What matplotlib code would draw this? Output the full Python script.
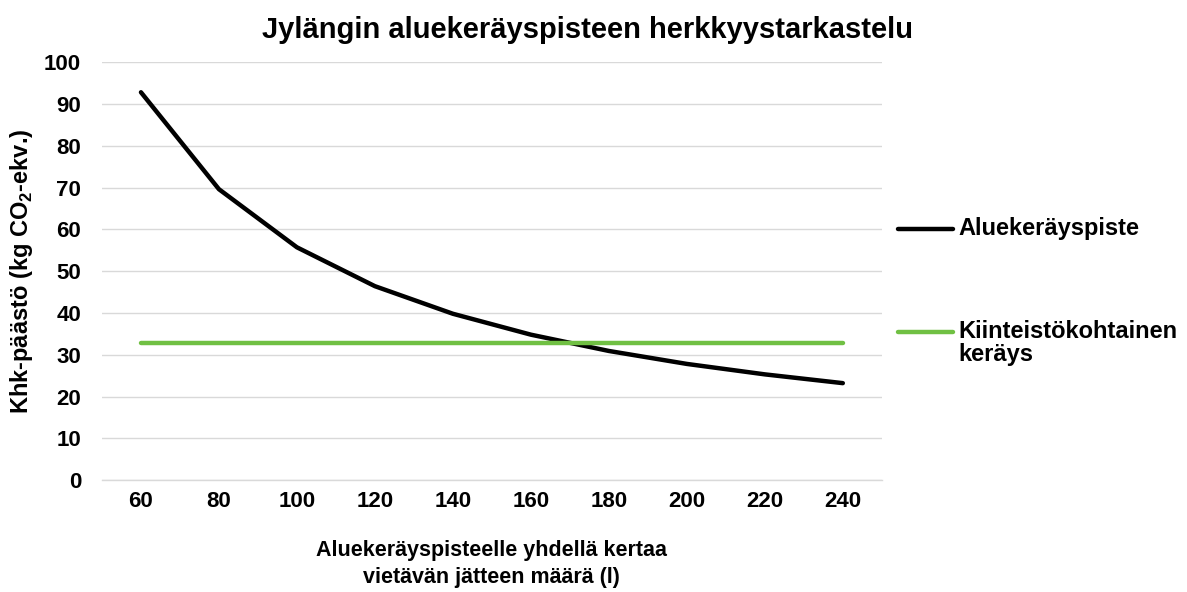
import matplotlib
matplotlib.use('Agg')
from matplotlib import pyplot as plt
from matplotlib.lines import Line2D

plt.rcParams['font.family'] = ['Liberation Sans', 'DejaVu Sans']
plt.rcParams['mathtext.fontset'] = 'custom'
plt.rcParams['mathtext.rm'] = 'Liberation Sans:bold'
plt.rcParams['mathtext.bf'] = 'Liberation Sans:bold'

# Data
volumes = [60, 80, 100, 120, 140, 160, 180, 200, 220, 240]
alue = [92.8, 69.6, 55.7, 46.4, 39.8, 34.8, 30.9, 27.8, 25.3, 23.2]
kiinteisto = [32.8, 32.8, 32.8, 32.8, 32.8, 32.8, 32.8, 32.8, 32.8, 32.8]
y_ticks = [0, 10, 20, 30, 40, 50, 60, 70, 80, 90, 100]

black = '#000000'
green = '#70c043'
grid_c = '#d9d9d9'

W, H = 1187, 592
fig = plt.figure(figsize=(W / 100, H / 100), dpi=100)
ax = fig.add_axes([0.0859, 0.189, 0.657, 0.706])

pos = list(range(len(volumes)))
ax.plot(pos, alue, color=black, lw=3.2, solid_capstyle='round', zorder=3)
ax.plot(pos, kiinteisto, color=green, lw=3.2, solid_capstyle='round', zorder=3)

ax.set_xlim(-0.5, len(volumes) - 0.5)
ax.set_ylim(0, 100)
ax.set_yticks(y_ticks)
ax.set_xticks(pos)
ax.set_xticklabels([str(v) for v in volumes])
ax.tick_params(axis='both', length=0, labelsize=16)
ax.tick_params(axis='y', pad=15)
ax.tick_params(axis='x', pad=8)
for lab in ax.get_xticklabels() + ax.get_yticklabels():
    lab.set_fontweight('bold')

ax.grid(axis='y', color=grid_c, lw=1)
ax.set_axisbelow(True)
for s in ['top', 'right', 'left']:
    ax.spines[s].set_visible(False)
ax.spines['bottom'].set_color(grid_c)
ax.spines['bottom'].set_linewidth(1)

fig.text(588 / W, 1 - 30 / H, 'Jylängin aluekeräyspisteen herkkyystarkastelu',
         fontsize=21, fontweight='bold', ha='center', va='center')

ax.set_ylabel(r'Khk-päästö (kg CO$_\mathbf{2}$-ekv.)', fontsize=17,
              fontweight='bold', va='center')
ax.yaxis.set_label_coords((22 - 102) / 780, 0.5)
ax.set_xlabel('Aluekeräyspisteelle yhdellä kertaa\nvietävän jätteen määrä (l)',
              fontsize=15.5, fontweight='bold', linespacing=1.35)
ax.xaxis.set_label_coords(0.5, (480 - 540) / 418)

# Legend drawn by hand
leg_fs = 17
fig.add_artist(Line2D([898 / W, 953 / W], [1 - 229 / H, 1 - 229 / H],
                      color=black, lw=3.2, solid_capstyle='round'))
fig.text(958 / W, 1 - 229 / H, 'Aluekeräyspiste', fontsize=leg_fs,
         fontweight='bold', va='center')
fig.add_artist(Line2D([898 / W, 953 / W], [1 - 332 / H, 1 - 332 / H],
                      color=green, lw=3.2, solid_capstyle='round'))
fig.text(958 / W, 1 - 331 / H, 'Kiinteistökohtainen', fontsize=leg_fs,
         fontweight='bold', va='center')
fig.text(958 / W, 1 - 355 / H, 'keräys', fontsize=leg_fs,
         fontweight='bold', va='center')

fig.savefig('out.png', dpi=100)
